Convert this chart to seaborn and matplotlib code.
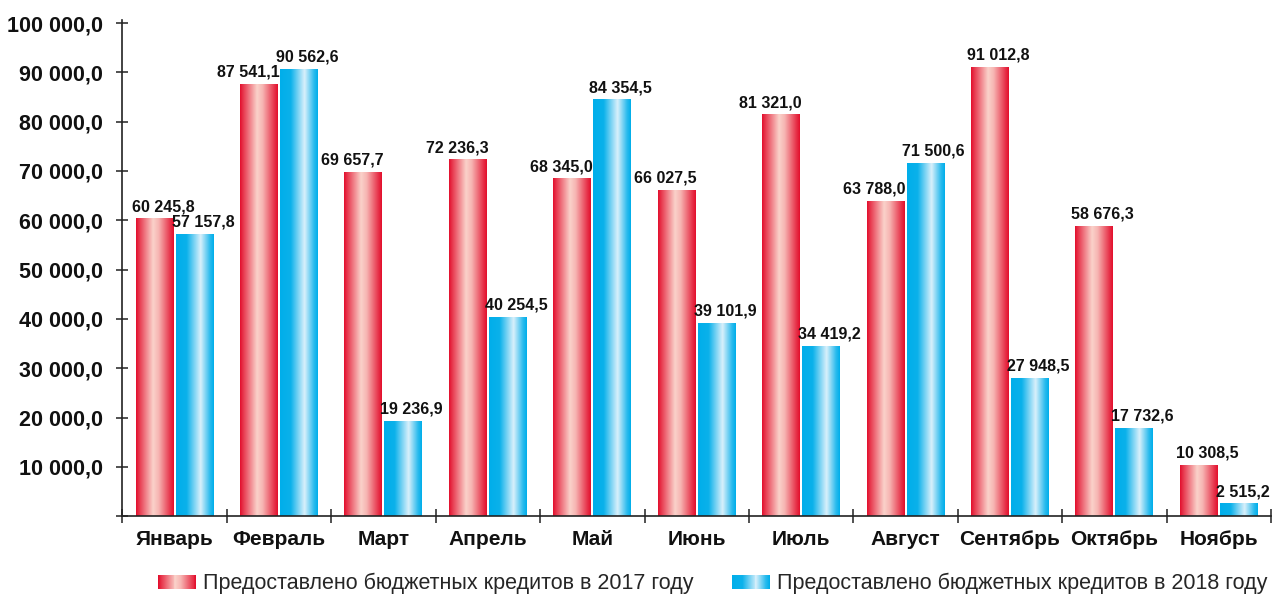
import numpy as np
import pandas as pd
import matplotlib
matplotlib.use("Agg")
import matplotlib.pyplot as plt
from matplotlib.patches import Rectangle
from matplotlib.legend_handler import HandlerBase
from matplotlib.ticker import FixedLocator, FuncFormatter
from matplotlib.colors import to_rgb
import seaborn as sns

months = ['Январь', 'Февраль', 'Март', 'Апрель', 'Май', 'Июнь',
          'Июль', 'Август', 'Сентябрь', 'Октябрь', 'Ноябрь']
credits_2017 = [60245.8, 87541.1, 69657.7, 72236.3, 68345.0, 66027.5,
                81321.0, 63788.0, 91012.8, 58676.3, 10308.5]
credits_2018 = [57157.8, 90562.6, 19236.9, 40254.5, 84354.5, 39101.9,
                34419.2, 71500.6, 27948.5, 17732.6, 2515.2]
series_names = ['Предоставлено бюджетных кредитов в 2017 году',
                'Предоставлено бюджетных кредитов в 2018 году']
y_ticks = [0, 10000, 20000, 30000, 40000, 50000, 60000, 70000, 80000, 90000, 100000]

# which side of the bar each 2017 value label hugs
label_side_2017 = ['left', 'right', 'right', 'right', 'right', 'right',
                   'right', 'right', 'left', 'left', 'left']

sns.set_theme(style="white")
plt.rcParams['font.family'] = ['Liberation Sans', 'DejaVu Sans']

df = pd.DataFrame({
    'month': months * 2,
    'value': credits_2017 + credits_2018,
    'series': [series_names[0]] * len(months) + [series_names[1]] * len(months),
})

red_dark, red_light = to_rgb('#e30f2d'), to_rgb('#fad2ca')
blue_dark, blue_light = to_rgb('#00aeea'), to_rgb('#d9f0fb')


def gradient(dark, light, kind, n=80):
    t = np.linspace(0, 1, n)
    if kind == 'red':
        w = np.interp(t, [0, 0.08, 0.45, 0.6, 0.9, 1.0], [0.0, 0.2, 1.0, 0.85, 0.2, 0.0])
    else:
        w = np.interp(t, [0, 0.28, 0.65, 0.9, 1.0], [0.0, 0.05, 1.0, 0.2, 0.0])
    d, l = np.array(dark), np.array(light)
    return d[None, :] * (1 - w[:, None]) + l[None, :] * w[:, None]


grad_red = gradient(red_dark, red_light, 'red')
grad_blue = gradient(blue_dark, blue_light, 'blue')

fig = plt.figure(figsize=(12.73, 5.95), dpi=100)
ax = fig.add_axes([0.0962, 0.1323, 0.9022, 0.834])

sns.barplot(data=df, x='month', y='value', hue='series',
            palette=[red_dark, blue_dark], width=0.766, gap=0.05,
            legend=False, ax=ax, order=months)

ax.set_xlim(-0.5, len(months) - 0.5)
ax.set_ylim(0, 100600)

bars = list(ax.patches)
n = len(months)
for i, p in enumerate(bars):
    x0, w, h = p.get_x(), p.get_width(), p.get_height()
    g = grad_red if i < n else grad_blue
    ax.imshow(g[None, :, :], extent=[x0, x0 + w, 0, h], aspect='auto',
              interpolation='bilinear', zorder=2)
    p.set_visible(False)

ax.set_xlim(-0.5, len(months) - 0.5)
ax.set_ylim(0, 100600)


def fmt_num(v):
    return f"{v:,.1f}".replace(',', ' ').replace('.', ',')


for i, p in enumerate(bars):
    x0, w, h = p.get_x(), p.get_width(), p.get_height()
    if i < n:
        val = credits_2017[i]
        side = label_side_2017[i]
    else:
        val = credits_2018[i - n]
        side = 'left'
    if side == 'left':
        xa, ha, dx = x0, 'left', -3
    else:
        xa, ha, dx = x0 + w, 'right', 1
    ax.annotate(fmt_num(val), xy=(xa, val), xytext=(dx, 3.5),
                textcoords='offset points', ha=ha, va='bottom',
                fontsize=11.5, fontweight='bold', color='#111111', zorder=4)

# axes styling
for s in ['top', 'right']:
    ax.spines[s].set_visible(False)
for s in ['left', 'bottom']:
    ax.spines[s].set_color('#222222')
    ax.spines[s].set_linewidth(1.2)

ax.yaxis.set_major_locator(FixedLocator(y_ticks))
ax.yaxis.set_major_formatter(FuncFormatter(lambda v, pos: '' if v == 0 else fmt_num(v)))
ax.tick_params(axis='y', which='major', direction='inout', length=8, width=1.1,
               color='#222222', labelsize=15.5, pad=10, left=True,
               labelcolor='#111111')
for lbl in ax.get_yticklabels():
    lbl.set_fontweight('bold')

ax.set_xticks(range(n))
ax.set_xticklabels(months, fontsize=15, fontweight='bold', color='#111111')
ax.xaxis.set_minor_locator(FixedLocator(np.arange(-0.5, n, 1.0)))
ax.tick_params(axis='x', which='major', length=0, pad=10)
ax.tick_params(axis='x', which='minor', direction='inout', length=10, width=1.1,
               color='#222222', bottom=True)
ax.set_xlabel('')
ax.set_ylabel('')
ax.grid(False)


class GradientKey:
    def __init__(self, colors):
        self.colors = colors


class GradientHandler(HandlerBase):
    def create_artists(self, legend, orig_handle, xdescent, ydescent,
                       width, height, fontsize, trans):
        cols = orig_handle.colors
        m = len(cols)
        arts = []
        for k, c in enumerate(cols):
            r = Rectangle((-xdescent + k * width / m, -ydescent),
                          width / m * 1.1, height, facecolor=c,
                          edgecolor='none', transform=trans)
            arts.append(r)
        return arts


keys = [GradientKey(gradient(red_dark, red_light, 'red', 40)),
        GradientKey(gradient(blue_dark, blue_light, 'blue', 40))]
fig.legend(keys, series_names, handler_map={GradientKey: GradientHandler()},
           loc='lower right', bbox_to_anchor=(1.009, -0.028), ncol=2,
           frameon=False, fontsize=15.5, handlelength=1.77, handleheight=0.6,
           handletextpad=0.33, columnspacing=1.75, borderpad=0.3)

fig.savefig('out.png', dpi=100)
